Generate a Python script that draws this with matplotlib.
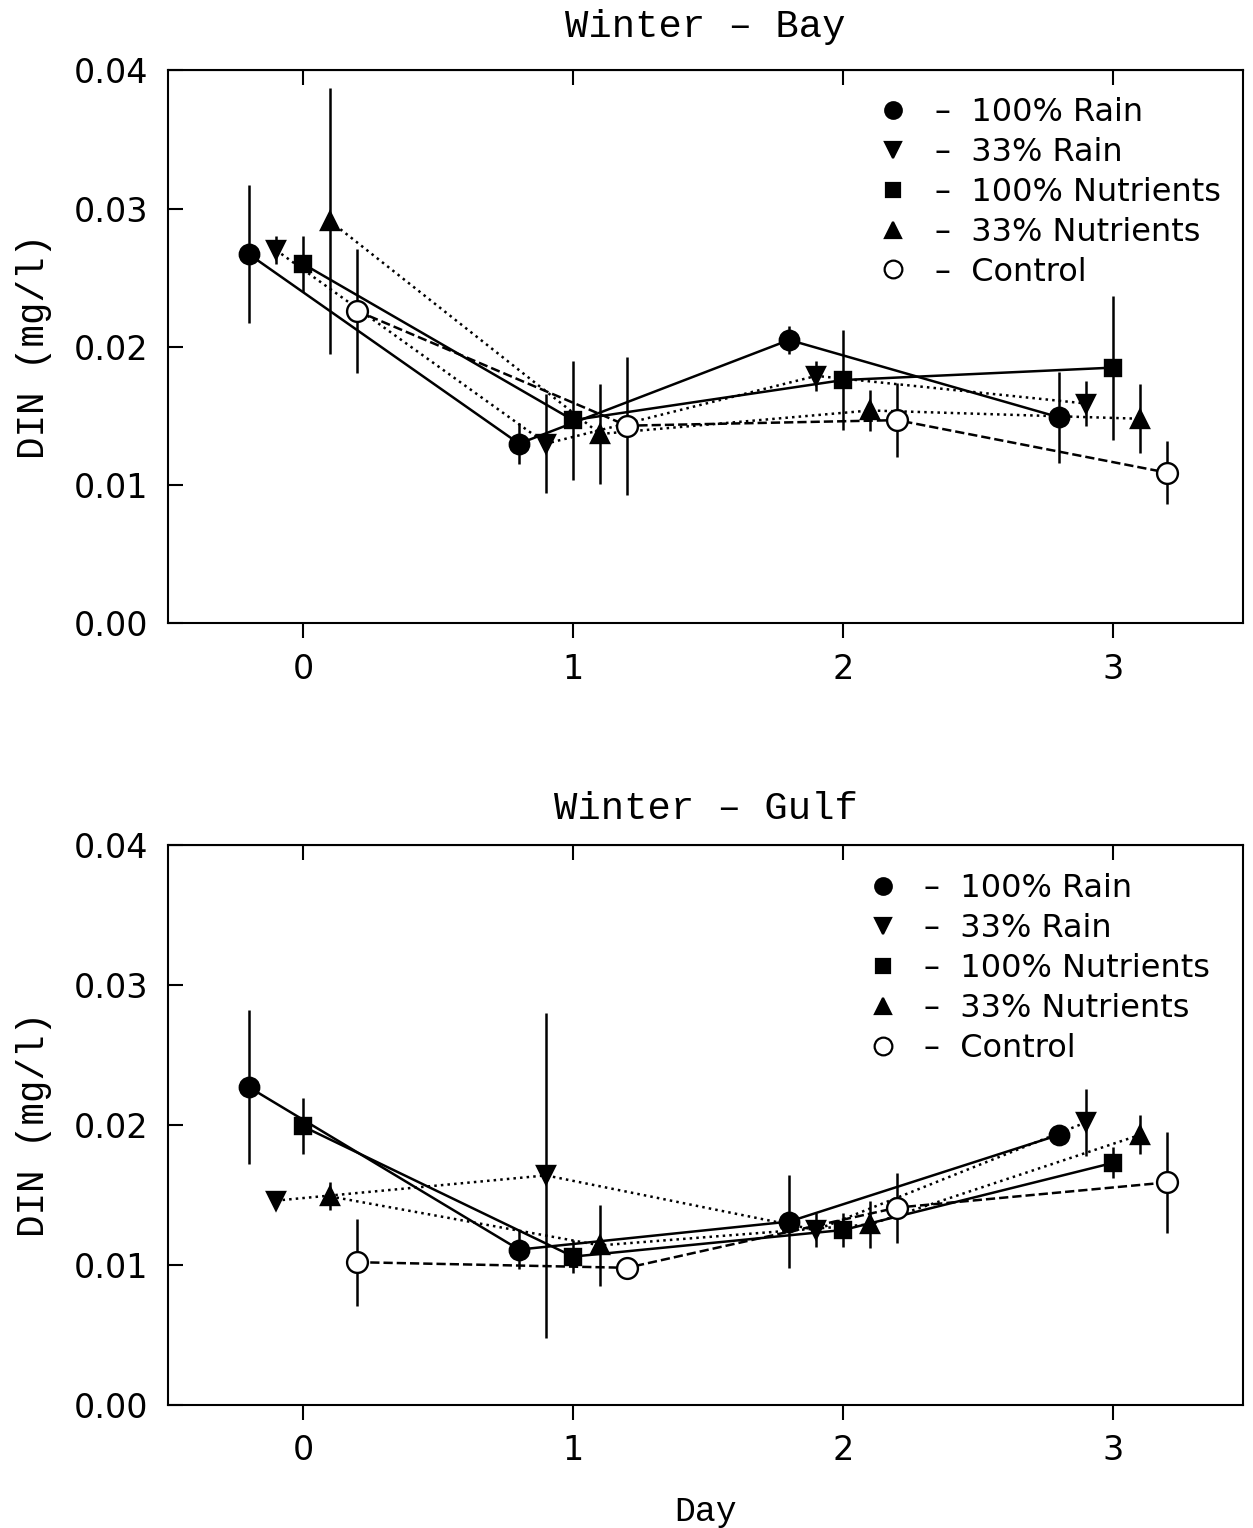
"""
Winter DIN concentrations, Bay and Gulf mesocosms (two stacked panels).
"""
import matplotlib.pyplot as plt
from matplotlib.lines import Line2D

# day positions (treatments offset around each sampling day)
x_rain100 = [-0.2, 0.8, 1.8, 2.8]
x_rain33 = [-0.1, 0.9, 1.9, 2.9]
x_nut100 = [0.0, 1.0, 2.0, 3.0]
x_nut33 = [0.1, 1.1, 2.1, 3.1]
x_ctrl = [0.2, 1.2, 2.2, 3.2]

# Winter - Bay, DIN (mg/l) and error
bay_rain100 = [0.0267, 0.0130, 0.0205, 0.0149]
bay_rain100_err = [0.0050, 0.0015, 0.0010, 0.0033]
bay_rain33 = [0.0270, 0.0130, 0.0179, 0.0159]
bay_rain33_err = [0.0010, 0.0036, 0.0011, 0.0016]
bay_nut100 = [0.0260, 0.0147, 0.0176, 0.0185]
bay_nut100_err = [0.0020, 0.0043, 0.0036, 0.0052]
bay_nut33 = [0.0291, 0.0137, 0.0154, 0.0148]
bay_nut33_err = [0.0096, 0.0036, 0.0015, 0.0025]
bay_ctrl = [0.0226, 0.0143, 0.0147, 0.0109]
bay_ctrl_err = [0.0045, 0.0050, 0.0027, 0.0023]

# Winter - Gulf
gulf_rain100 = [0.0227, 0.0111, 0.0131, 0.0193]
gulf_rain100_err = [0.0055, 0.0014, 0.0033, 0.0003]
gulf_rain33 = [0.0146, 0.0164, 0.0125, 0.0202]
gulf_rain33_err = [0.0003, 0.0116, 0.0012, 0.0024]
gulf_nut100 = [0.0199, 0.0106, 0.0125, 0.0173]
gulf_nut100_err = [0.0020, 0.0012, 0.0012, 0.0011]
gulf_nut33 = [0.0149, 0.0114, 0.0129, 0.0193]
gulf_nut33_err = [0.0010, 0.0029, 0.0017, 0.0014]
gulf_ctrl = [0.0102, 0.0098, 0.0141, 0.0159]
gulf_ctrl_err = [0.0031, 0.0004, 0.0025, 0.0036]

labels = ['100% Rain', '33% Rain', '100% Nutrients', '33% Nutrients', 'Control']
markers = ['o', 'v', 's', '^', 'o']
facecolors = ['k', 'k', 'k', 'k', 'white']
sizes = [14, 13, 12, 13, 15]
linestyles = ['-', ':', '-', ':', '--']
xs = [x_rain100, x_rain33, x_nut100, x_nut33, x_ctrl]

mono = 'Liberation Mono'


def draw_panel(ax, title, series, errs, leg_anchor, title_pad):
    for x, y, e, m, fc, ms, ls in zip(xs, series, errs, markers, facecolors, sizes, linestyles):
        ax.errorbar(x, y, yerr=e, fmt=m, color='k', mfc=fc, mec='k', mew=1.7,
                    ms=ms, ls=ls, lw=1.8, elinewidth=1.8, capsize=0, zorder=3)
    ax.set_xlim(-0.5, 3.48)
    ax.set_ylim(0, 0.04)
    ax.set_xticks([0, 1, 2, 3])
    ax.set_yticks([0.0, 0.01, 0.02, 0.03, 0.04])
    ax.set_yticklabels(['0.00', '0.01', '0.02', '0.03', '0.04'])
    ax.tick_params(axis='x', direction='out', length=11, width=1.5, labelsize=24, pad=10)
    ax.tick_params(axis='y', direction='in', length=11, width=1.5, labelsize=24, pad=14)
    top = ax.secondary_xaxis('top')
    top.set_xticks([0, 1, 2, 3])
    top.tick_params(direction='in', length=11, width=1.5, labeltop=False)
    for sp in ax.spines.values():
        sp.set_linewidth(1.5)
    ax.set_ylabel('DIN (mg/l)', fontfamily=mono, fontsize=27, labelpad=16)
    ax.set_title(title, fontfamily=mono, fontsize=28, pad=title_pad)

    handles = [Line2D([], [], marker=m, ls='none', color='k', mfc=fc, mec='k',
                      mew=1.6, ms=ms * 0.85) for m, fc, ms in zip(markers, facecolors, sizes)]
    ax.legend(handles, ['\u2013  ' + l for l in labels], loc='upper left',
              bbox_to_anchor=leg_anchor, frameon=False, fontsize=23,
              handlelength=1.0, handletextpad=0.8, labelspacing=0.28,
              borderaxespad=0)


fig = plt.figure(figsize=(12.53, 15.28), dpi=100)
ax1 = fig.add_axes([0.134, 0.592, 0.858, 0.362])
ax2 = fig.add_axes([0.134, 0.0805, 0.858, 0.3665])

draw_panel(ax1, 'Winter \u2013 Bay',
           [bay_rain100, bay_rain33, bay_nut100, bay_nut33, bay_ctrl],
           [bay_rain100_err, bay_rain33_err, bay_nut100_err, bay_nut33_err, bay_ctrl_err],
           (0.648, 0.975), 24)
draw_panel(ax2, 'Winter \u2013 Gulf',
           [gulf_rain100, gulf_rain33, gulf_nut100, gulf_nut33, gulf_ctrl],
           [gulf_rain100_err, gulf_rain33_err, gulf_nut100_err, gulf_nut33_err, gulf_ctrl_err],
           (0.638, 0.972), 19)
ax2.set_xlabel('Day', fontfamily=mono, fontsize=25, labelpad=20)

plt.savefig('out.png', dpi=100)
